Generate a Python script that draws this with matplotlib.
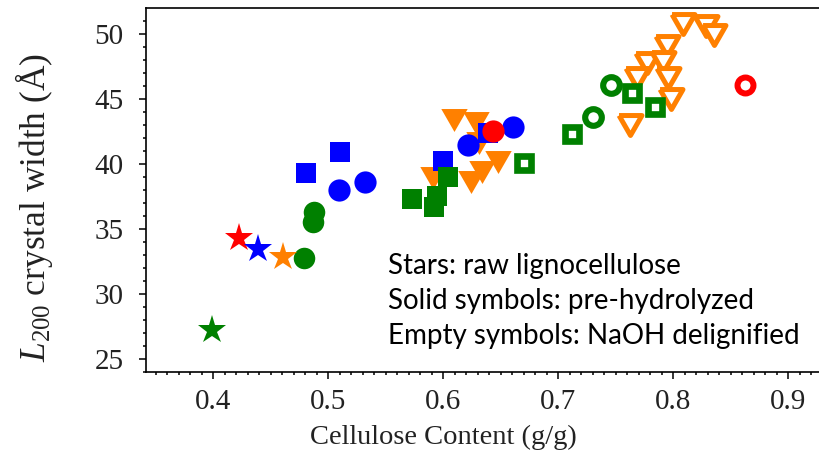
import matplotlib
matplotlib.use("Agg")
import matplotlib.pyplot as plt
from matplotlib.ticker import MultipleLocator, FormatStrFormatter

# raw lignocellulose (stars)
star_x = [0.4226, 0.4391, 0.4609, 0.3991]
star_y = [34.28, 33.46, 32.87, 27.23]
star_c = ["red", "blue", "#ff8000", "green"]

# pre-hydrolyzed (solid symbols)
blue_sq_x = [0.4803, 0.5102, 0.6000, 0.6391]
blue_sq_y = [39.33, 40.90, 40.25, 42.36]
blue_ci_x = [0.5096, 0.5319, 0.6217, 0.6603]
blue_ci_y = [38.00, 38.59, 41.46, 42.82]
green_ci_x = [0.4789, 0.4878, 0.4864]
green_ci_y = [32.75, 36.28, 35.56]
green_sq_x = [0.5725, 0.5943, 0.5923, 0.6043]
green_sq_y = [37.28, 37.54, 36.72, 38.97]
orange_tri_x = [0.6094, 0.6284, 0.6310, 0.6478, 0.6334, 0.6238, 0.5913]
orange_tri_y = [43.36, 43.13, 41.60, 40.18, 39.41, 38.64, 38.90]
red_ci_x = [0.6435]
red_ci_y = [42.56]

# NaOH delignified (empty symbols)
green_osq_x = [0.6702, 0.7116, 0.7638, 0.7841]
green_osq_y = [40.10, 42.31, 45.49, 44.36]
green_oci_x = [0.7299, 0.7458]
green_oci_y = [43.59, 46.08]
orange_otri_x = [0.8082, 0.8282, 0.8354, 0.7942, 0.7774, 0.7913, 0.7687, 0.7957, 0.7977, 0.7623]
orange_otri_y = [50.77, 50.60, 49.92, 49.10, 47.75, 47.82, 46.59, 46.59, 45.02, 43.00]
red_oci_x = [0.8623]
red_oci_y = [46.08]

notes = ["Stars: raw lignocellulose",
         "Solid symbols: pre-hydrolyzed",
         "Empty symbols: NaOH delignified"]

ORANGE = "#ff8000"
TRI = [(-1.15, 1), (1.15, 1), (0, -1), (-1.15, 1)]

plt.rcParams["mathtext.fontset"] = "custom"
plt.rcParams["mathtext.rm"] = "Liberation Serif"
plt.rcParams["mathtext.it"] = "Liberation Serif:italic"

fig = plt.figure(figsize=(8.19, 4.66), dpi=100)
ax = fig.add_axes([0.1783, 0.2017, 0.8317, 0.7801])

# empty symbols
ax.plot(orange_otri_x, orange_otri_y, ls="none", marker=TRI, ms=16.5, mfc="white",
        mec=ORANGE, mew=3.6)
ax.plot(green_osq_x, green_osq_y, ls="none", marker="s", ms=10.5, mfc="white",
        mec="green", mew=4.8)
ax.plot(green_oci_x, green_oci_y, ls="none", marker="o", ms=12, mfc="white",
        mec="green", mew=4.4)
ax.plot(red_oci_x, red_oci_y, ls="none", marker="o", ms=11.5, mfc="white",
        mec="red", mew=4.3)

# solid symbols
ax.plot(orange_tri_x, orange_tri_y, ls="none", marker=TRI, ms=19, color=ORANGE, mew=0)
ax.plot(blue_sq_x, blue_sq_y, ls="none", marker="s", ms=14.5, color="blue", mew=0)
ax.plot(blue_ci_x, blue_ci_y, ls="none", marker="o", ms=16, color="blue", mew=0)
ax.plot(green_sq_x, green_sq_y, ls="none", marker="s", ms=14, color="green", mew=0)
ax.plot(green_ci_x, green_ci_y, ls="none", marker="o", ms=15.5, color="green", mew=0)
ax.plot(red_ci_x, red_ci_y, ls="none", marker="o", ms=16, color="red", mew=0)

# stars
for x, y, c in zip(star_x, star_y, star_c):
    ax.plot([x], [y], ls="none", marker="*", ms=21, color=c, mew=0)

ax.set_xlim(0.3415, 0.9339)
ax.set_ylim(24.0, 51.96)

ax.xaxis.set_major_locator(MultipleLocator(0.1))
ax.xaxis.set_minor_locator(MultipleLocator(0.01))
ax.yaxis.set_major_locator(MultipleLocator(5))
ax.yaxis.set_minor_locator(MultipleLocator(1))
ax.xaxis.set_major_formatter(FormatStrFormatter("%.1f"))

ax.tick_params(which="both", direction="out", top=False, right=False, width=1.1,
               colors="black")
ax.tick_params(which="major", length=5, labelsize=21)
ax.tick_params(axis="x", which="major", pad=7)
ax.tick_params(axis="y", which="major", pad=11)
ax.tick_params(which="minor", length=2.5)
for lab in ax.get_xticklabels() + ax.get_yticklabels():
    lab.set_fontfamily("Liberation Serif")
    lab.set_color("#222222")

for s in ax.spines.values():
    s.set_linewidth(1.2)

ax.set_xlabel("Cellulose Content (g/g)", fontsize=20.5, family="Liberation Serif",
              color="#222222")
ax.xaxis.set_label_coords(0.436, -0.145)
ax.set_ylabel(r"$\mathit{L}_{\mathit{200}}$ crystal width (Å)", fontsize=25.5,
              family="Liberation Serif", color="#222222")
ax.yaxis.set_label_coords(-0.133, 0.452)

for i, t in enumerate(notes):
    fig.text(388 / 819, 1 - (266 + 35 * i) / 466, t, fontsize=20, family="Lato",
             va="center", ha="left", color="black")

fig.savefig("out.png", dpi=100)
